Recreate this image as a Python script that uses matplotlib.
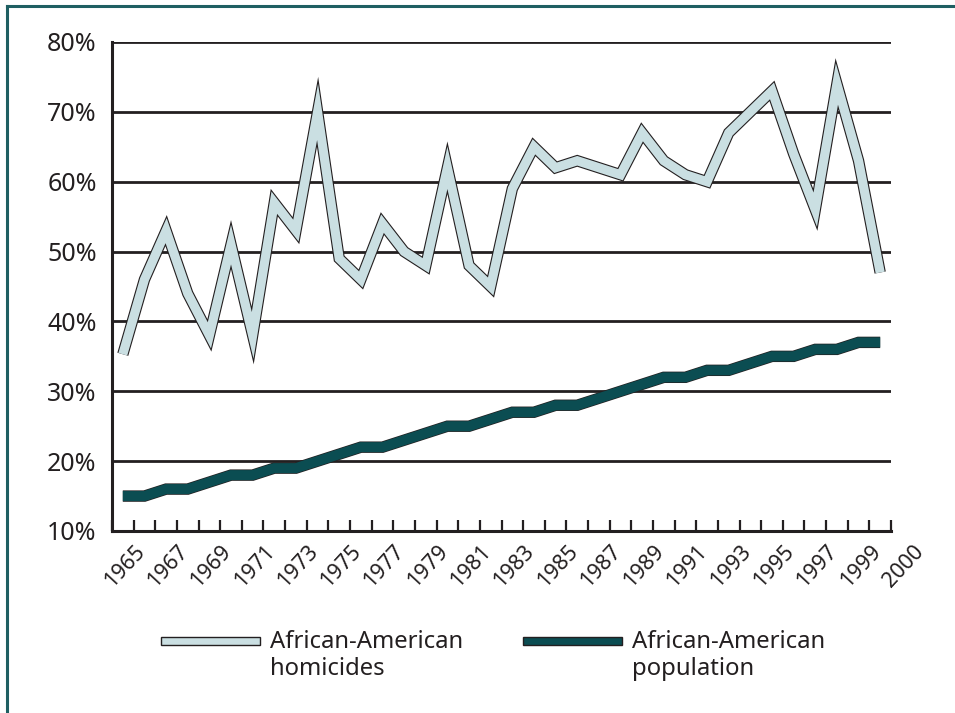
import matplotlib
matplotlib.use("Agg")
import matplotlib.pyplot as plt
import matplotlib.patches as mpatches
import matplotlib.patheffects as pe
from matplotlib.lines import Line2D
from matplotlib.legend_handler import HandlerPatch
import matplotlib.transforms as mtransforms

plt.rcParams['font.family'] = ['Noto Sans', 'DejaVu Sans']

years = list(range(1965, 2001))
homicides = [35.3, 46, 53, 44, 38, 51, 38, 57, 53, 70,
             49, 46, 54, 50, 48, 62, 48, 45, 59, 65,
             62, 63, 62, 61, 67, 63, 61, 60, 67, 70,
             73, 64, 56, 74, 63, 47]
population = [15, 15, 16, 16, 17, 18, 18, 19, 19, 20,
              21, 22, 22, 23, 24, 25, 25, 26, 27, 27,
              28, 28, 29, 30, 31, 32, 32, 33, 33, 34,
              35, 35, 36, 36, 37, 37]
xlabels = ['1965', '1967', '1969', '1971', '1973', '1975', '1977', '1979',
           '1981', '1983', '1985', '1987', '1989', '1991', '1993', '1995',
           '1997', '1999', '2000']
yticks = [10, 20, 30, 40, 50, 60, 70, 80]
series_labels = ['African-American\nhomicides', 'African-American\npopulation']

LIGHT = '#cadfe2'
DARK = '#0b4d52'
EDGE = '#231f20'
FRAME = '#1f5f62'
FS = 17.2

W, H = 955, 713
fig = plt.figure(figsize=(W / 100, H / 100), dpi=100)
ax = fig.add_axes([112 / W, 1 - 531 / H, (891 - 112) / W, (531 - 42) / H])

x = list(range(len(years)))
lw_out = 8.2
lw_in = 6.6
ax.plot(x, homicides, color=LIGHT, lw=lw_in, solid_joinstyle='miter',
        solid_capstyle='butt', zorder=4,
        path_effects=[pe.Stroke(linewidth=lw_out, foreground=EDGE,
                                joinstyle='miter', capstyle='butt'),
                      pe.Normal()])
ax.plot(x, population, color=DARK, lw=lw_in + 0.6, solid_joinstyle='miter',
        solid_capstyle='butt', zorder=4,
        path_effects=[pe.Stroke(linewidth=lw_out, foreground=EDGE,
                                joinstyle='miter', capstyle='butt'),
                      pe.Normal()])

ax.set_xlim(-0.5, len(years) - 0.5)
ax.set_ylim(10, 80)
ax.set_yticks(yticks)
ax.set_yticklabels([f'{v}%' for v in yticks])
ax.yaxis.grid(True, color=EDGE, lw=2.0)
ax.set_axisbelow(True)
ax.tick_params(axis='y', length=0, pad=11, labelsize=18, labelcolor=EDGE)

# category boundary ticks
ax.set_xticks([i - 0.5 for i in range(len(years) + 1)])
ax.set_xticklabels([])
ax.tick_params(axis='x', direction='in', length=8, width=1.6, color=EDGE)

for s in ['top', 'right']:
    ax.spines[s].set_visible(False)
for s in ['left', 'bottom']:
    ax.spines[s].set_color(EDGE)
    ax.spines[s].set_linewidth(2.2)

# rotated year labels, every second category plus the final one
trans = mtransforms.blended_transform_factory(ax.transData, ax.transAxes)
offset = mtransforms.ScaledTranslation(11 / 100, -10 / 100, fig.dpi_scale_trans)
for k, lab in enumerate(xlabels):
    ax.text(2 * k, 0, lab, transform=trans + offset, rotation=47,
            ha='right', va='top', rotation_mode='anchor', fontsize=15.5,
            color=EDGE, clip_on=False)

# legend
def top_bar(legend, orig_handle, xdescent, ydescent, width, height, fontsize):
    th = 0.36 * fontsize
    return mpatches.Rectangle((-xdescent, 0.98 * fontsize - th / 2), width, th)

h1 = mpatches.Patch(facecolor=LIGHT, edgecolor=EDGE, lw=1.0)
h2 = mpatches.Patch(facecolor=DARK, edgecolor=EDGE, lw=1.0)
leg = fig.legend([h1, h2], series_labels, loc='upper left',
                 bbox_to_anchor=(139 / W, 1 - 608 / H), ncol=2, frameon=False,
                 fontsize=FS, handlelength=4.15, handleheight=2.0,
                 handletextpad=0.42, columnspacing=2.5,
                 handler_map={mpatches.Patch: HandlerPatch(patch_func=top_bar)})
for t in leg.get_texts():
    t.set_color(EDGE)

# frame (top and left)
fig.add_artist(Line2D([7 / W, 1], [1 - 6 / H, 1 - 6 / H], color=FRAME, lw=2.2,
                      transform=fig.transFigure))
fig.add_artist(Line2D([7 / W, 7 / W], [0, 1 - 6 / H], color=FRAME, lw=2.2,
                      transform=fig.transFigure))

fig.savefig('out.png', dpi=100)
